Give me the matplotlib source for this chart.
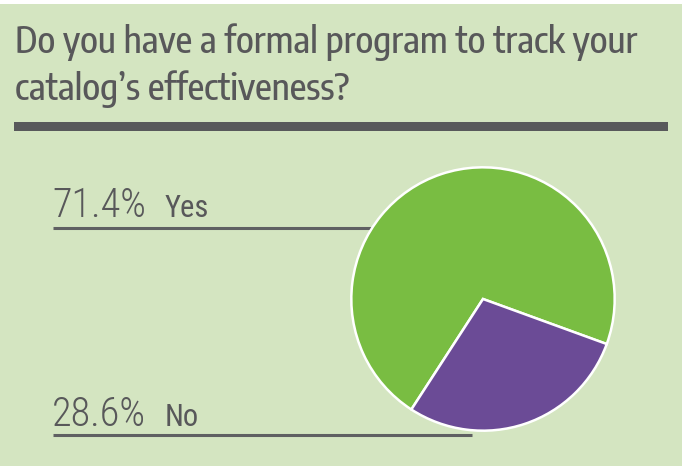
import matplotlib
matplotlib.use("Agg")
import matplotlib.pyplot as plt
from matplotlib.patches import Rectangle
from matplotlib.lines import Line2D

# ---- data ----
title_lines = ["Do you have a formal program to track your", "catalog\u2019s effectiveness?"]
categories = ["Yes", "No"]
values = [71.4, 28.6]
value_labels = ["71.4%", "28.6%"]

# ---- style ----
BG = "#d4e5c1"
GREEN = "#79bd42"
PURPLE = "#6b4b96"
TEXT = "#58585a"
LINE = "#5f6062"
FONT = ["Roboto Condensed", "DejaVu Sans"]
TFONT = ["Encode Sans Condensed", "Roboto Condensed", "DejaVu Sans"]

W, H = 686, 466
fig = plt.figure(figsize=(W / 100, H / 100), dpi=100, facecolor="white")


def fx(x):
    return x / W


def fy(y):
    return 1 - y / H


# green panel
fig.patches.append(Rectangle((0, 0), fx(682), fy(4), transform=fig.transFigure,
                             facecolor=BG, edgecolor="none", zorder=0))

# title (fit first line to the reference width)
title_texts = []
for line, base in zip(title_lines, [53, 100]):
    t = fig.text(fx(15), fy(base), line, family=TFONT, fontsize=28.4, color=TEXT,
                 va="baseline", ha="left", fontweight="medium")
    title_texts.append(t)
renderer = fig.canvas.get_renderer()
wpx = title_texts[0].get_window_extent(renderer).width
target = 640 - 15
scale = target / wpx
for t in title_texts:
    t.set_fontsize(28.4 * scale)

# thick bar
fig.patches.append(Rectangle((fx(14), fy(131)), fx(668) - fx(14), fy(122) - fy(131),
                             transform=fig.transFigure, facecolor="#58595b",
                             edgecolor="none", zorder=1))

# leader lines and labels
label_base = [217, 426]
line_y = [228, 435]
line_end = [420, 472]
for vl, cat, b, ly, le in zip(value_labels, categories, label_base, line_y, line_end):
    fig.add_artist(Line2D([fx(53), fx(le)], [fy(ly), fy(ly)], transform=fig.transFigure,
                          color=LINE, linewidth=2.2, solid_capstyle="butt", zorder=1))
    fig.text(fx(52), fy(b), vl, family=FONT, fontsize=29, color=TEXT, va="baseline",
             ha="left", fontweight="light")
    fig.text(fx(165), fy(b), cat, family=FONT, fontsize=22, color=TEXT, va="baseline",
             ha="left")

# pie
cx, cy, r = 483, 299, 133
ax = fig.add_axes([fx(cx - r), fy(cy + r), (2 * r) / W, (2 * r) / H], zorder=2)
ax.set_facecolor("none")
ax.pie(values, colors=[GREEN, PURPLE], startangle=-20, counterclock=True,
       wedgeprops=dict(edgecolor="white", linewidth=1.8))
ax.set_xlim(-1.01, 1.01)
ax.set_ylim(-1.01, 1.01)
ax.set_aspect("equal")
ax.axis("off")

fig.savefig("out.png", dpi=100, facecolor="white")
